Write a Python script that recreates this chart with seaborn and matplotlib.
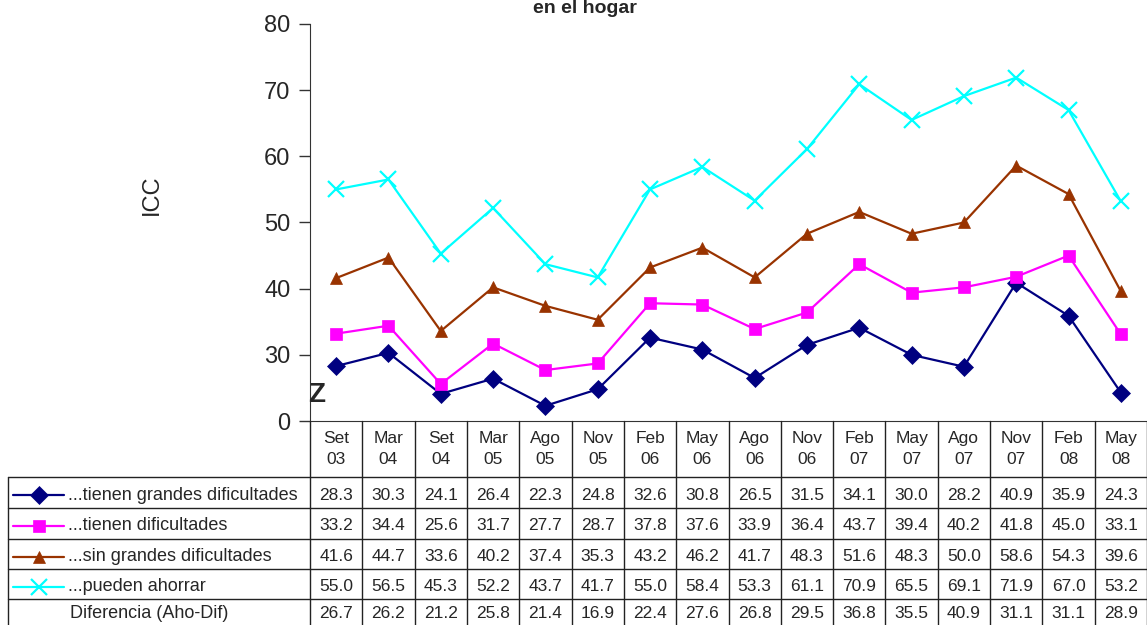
import numpy as np
import pandas as pd
import seaborn as sns
import matplotlib
matplotlib.use("Agg")
import matplotlib.pyplot as plt

# Data -----------------
periodos = ["Set\n03", "Mar\n04", "Set\n04", "Mar\n05", "Ago\n05", "Nov\n05", "Feb\n06", "May\n06",
            "Ago\n06", "Nov\n06", "Feb\n07", "May\n07", "Ago\n07", "Nov\n07", "Feb\n08", "May\n08"]
grandes_dif = [28.3, 30.3, 24.1, 26.4, 22.3, 24.8, 32.6, 30.8, 26.5, 31.5, 34.1, 30.0, 28.2, 40.9, 35.9, 24.3]
dificultades = [33.2, 34.4, 25.6, 31.7, 27.7, 28.7, 37.8, 37.6, 33.9, 36.4, 43.7, 39.4, 40.2, 41.8, 45.0, 33.1]
sin_grandes = [41.6, 44.7, 33.6, 40.2, 37.4, 35.3, 43.2, 46.2, 41.7, 48.3, 51.6, 48.3, 50.0, 58.6, 54.3, 39.6]
ahorrar = [55.0, 56.5, 45.3, 52.2, 43.7, 41.7, 55.0, 58.4, 53.3, 61.1, 70.9, 65.5, 69.1, 71.9, 67.0, 53.2]
diferencia = [26.7, 26.2, 21.2, 25.8, 21.4, 16.9, 22.4, 27.6, 26.8, 29.5, 36.8, 35.5, 40.9, 31.1, 31.1, 28.9]

series_names = ["...tienen grandes dificultades", "...tienen dificultades",
                "...sin grandes dificultades", "...pueden ahorrar"]
series_vals = [grandes_dif, dificultades, sin_grandes, ahorrar]
colores = ["#000080", "#FF00FF", "#993300", "#00FFFF"]
marcadores = ["D", "s", "^", "x"]
y_ticks = [20, 30, 40, 50, 60, 70, 80]          # broken axis: bottom shown as 0
y_labels = ["0", "30", "40", "50", "60", "70", "80"]

# Figure ---------------
sns.set_style("white")
plt.rcParams["font.family"] = ["Liberation Sans", "DejaVu Sans"]

W, H = 1147, 625
fig = plt.figure(figsize=(W / 100, H / 100), dpi=100)
x0, x1, y_top, y_bot = 310, 1147, 24, 421
ax = fig.add_axes([x0 / W, 1 - y_bot / H, (x1 - x0) / W, (y_bot - y_top) / H])

n = len(periodos)
df = pd.DataFrame({"x": np.tile(np.arange(n), 4),
                   "ICC": np.concatenate(series_vals),
                   "serie": np.repeat(series_names, n)})
for name, c, m in zip(series_names, colores, marcadores):
    sub = df[df["serie"] == name]
    sns.lineplot(data=sub, x="x", y="ICC", color=c, marker=m, ax=ax, lw=1.6,
                 markersize=9 if m != "x" else 11, markeredgecolor=c,
                 markeredgewidth=1.6 if m == "x" else 0.5)

ax.set_xlim(-0.5, n - 0.5)
ax.set_ylim(20, 80)
ax.set_yticks(y_ticks)
ax.set_yticklabels(y_labels, fontsize=17)
ax.set_xticks([])
ax.set_xlabel("")
ax.set_ylabel("")
for s in ["top", "right"]:
    ax.spines[s].set_visible(False)
ax.spines["left"].set_color("#333333")
ax.spines["bottom"].set_color("#333333")
ax.tick_params(axis="y", left=True, length=8, width=1, color="#333333", pad=6)

fig.text(152 / W, 1 - 195 / H, "ICC", rotation=90, fontsize=17, ha="center", va="center")
fig.text(585 / W, 1.0, "en el hogar", fontsize=14, fontweight="bold", ha="center", va="top")
fig.text(317 / W, 1 - 395 / H, "Z", fontsize=20, fontweight="bold", ha="center", va="center")

# Data table -----------
tab = fig.add_axes([0, 0, 1, 1], facecolor="none")
tab.set_xlim(0, W)
tab.set_ylim(H, 0)
tab.axis("off")
lc = "#222222"
cw = (x1 - x0) / n
rows = [477, 508, 539, 569, 599, 630]
for k in range(n + 1):
    tab.plot([x0 + k * cw] * 2, [y_bot, H], color=lc, lw=1)
tab.plot([8, 8], [rows[0], H], color=lc, lw=1)
for r in rows[:-1]:
    tab.plot([8, x1], [r, r], color=lc, lw=1)
for k, p in enumerate(periodos):
    tab.text(x0 + (k + 0.5) * cw, 449, p, ha="center", va="center", fontsize=12.5, linespacing=1.5)
all_rows = series_vals + [diferencia]
labels = series_names + ["Diferencia (Aho-Dif)"]
for i, (lab, vals) in enumerate(zip(labels, all_rows)):
    yc = (rows[i] + rows[i + 1]) / 2 + 2.5
    if i == 4:
        yc = 614
    for k, v in enumerate(vals):
        tab.text(x0 + (k + 0.5) * cw, yc, f"{v:.1f}", ha="center", va="center", fontsize=12.5)
    if i < 4:
        tab.plot([13, 64], [yc, yc], color=colores[i], lw=1.6)
        m = marcadores[i]
        tab.plot([38.5], [yc], marker=m, color=colores[i], markeredgecolor=colores[i],
                 markersize=9 if m != "x" else 11, markeredgewidth=1.6 if m == "x" else 0.5)
        tab.text(68, yc, lab, ha="left", va="center", fontsize=13)
    else:
        tab.text(70, yc, lab, ha="left", va="center", fontsize=13)

fig.savefig("out.png", dpi=100)
